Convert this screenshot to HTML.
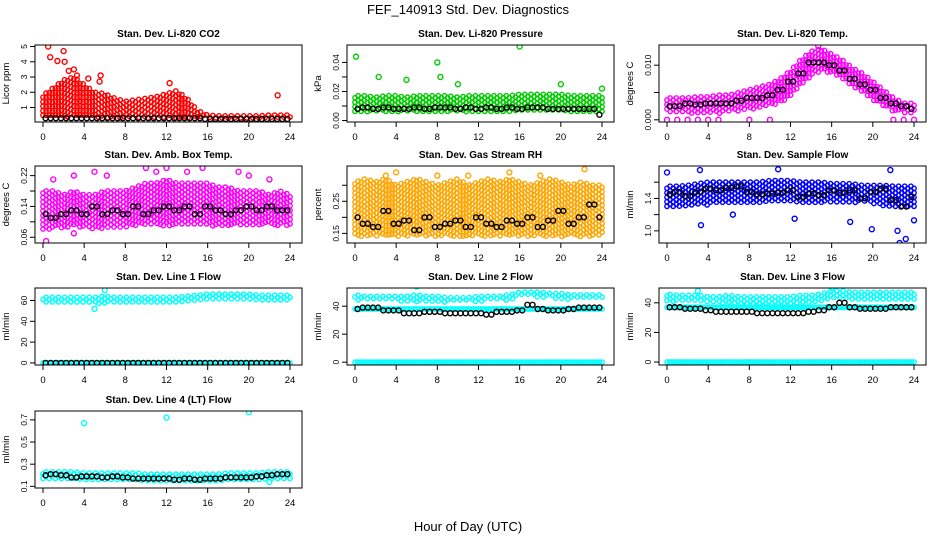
<!DOCTYPE html>
<html><head><meta charset="utf-8">
<style>
body{margin:0;background:#fff;}
svg{display:block;font-family:"Liberation Sans",sans-serif;}
</style></head>
<body>
<svg id="c" width="936" height="540" viewBox="0 0 936 540">
<text x="468" y="14" text-anchor="middle" font-size="13">FEF_140913  Std. Dev. Diagnostics</text>
<text x="468" y="531" text-anchor="middle" font-size="13">Hour of Day (UTC)</text>
</svg>
<script>
const hours=[0,1,2,3,4,5,6,7,8,9,10,11,12,13,14,15,16,17,18,19,20,21,22,23,24];
const titles=["Stan. Dev. Li-820 CO2","Stan. Dev. Li-820 Pressure","Stan. Dev. Li-820 Temp.","Stan. Dev. Amb. Box Temp.","Stan. Dev. Gas Stream RH","Stan. Dev. Sample Flow","Stan. Dev. Line 1 Flow","Stan. Dev. Line 2 Flow","Stan. Dev. Line 3 Flow","Stan. Dev. Line 4 (LT) Flow"];
const yTitles=["Licor ppm","kPa","degrees C","degrees C","percent","ml/min","ml/min","ml/min","ml/min","ml/min"];
const colors=["#ff0000","#00cc00","#ff00ff","#ff00ff","#ffa500","#0000ff","#00ffff","#00ffff","#00ffff","#00ffff"];
const yMin=[0.05,-0.001,-0.0004,0.045,0.12,0.85,-2,-2,-2,0.085];
const yMax=[5.1,0.052,0.0137,0.245,0.36,1.8,72,53,50,0.78];
const yTicks=[[1,2,3,4,5],[0,0.01,0.02,0.03,0.04],[0,0.005,0.01],[0.06,0.1,0.14,0.18,0.22],[0.15,0.2,0.25,0.3],[1.0,1.2,1.4,1.6],[0,20,40,60],[0,20,40],[0,20,40],[0.1,0.3,0.5,0.7]];
const yTickLabels=[["1","2","3","4","5"],["0.00","","0.02","","0.04"],["0.000","","0.010"],["0.06","","0.14","","0.22"],["0.15","","0.25",""],["1.0","","1.4",""],["0","20","40","60"],["0","20","40"],["0","20","40"],["0.1","0.3","0.5","0.7"]];
const xTicks=[0,4,8,12,16,20,24];
const bandLo=[
[0.3,0.3,0.3,0.3,0.3,0.3,0.3,0.3,0.3,0.3,0.3,0.3,0.3,0.3,0.3,0.3,0.25,0.25,0.25,0.25,0.25,0.25,0.25,0.25,0.25],
[0.006,0.006,0.006,0.006,0.006,0.006,0.006,0.006,0.006,0.006,0.006,0.006,0.006,0.006,0.006,0.006,0.006,0.006,0.006,0.006,0.006,0.006,0.006,0.006,0.006],
[0.0012,0.0012,0.0012,0.0012,0.0012,0.0012,0.0014,0.0016,0.0018,0.002,0.0025,0.003,0.0045,0.0065,0.008,0.009,0.0085,0.0075,0.006,0.005,0.0035,0.0025,0.0015,0.0012,0.0012],
[0.08,0.08,0.085,0.085,0.085,0.08,0.085,0.085,0.085,0.09,0.09,0.09,0.09,0.09,0.09,0.09,0.09,0.09,0.09,0.09,0.09,0.09,0.09,0.09,0.09],
[0.14,0.14,0.14,0.14,0.14,0.14,0.14,0.14,0.14,0.14,0.14,0.14,0.14,0.14,0.14,0.14,0.14,0.14,0.14,0.14,0.14,0.14,0.14,0.14,0.14],
[1.3,1.3,1.3,1.32,1.32,1.33,1.33,1.33,1.33,1.33,1.35,1.35,1.35,1.35,1.35,1.35,1.35,1.35,1.35,1.35,1.33,1.3,1.28,1.28,1.28],
[58,58,58,58,58,57,57,58,58,58,58,58,58,58,58,59,60,60,60,60,60,60,59,59,59],
[44,44,44,44,44,43,43,43,43,43,43,43,43,44,44,44,47,47,46,46,45,45,45,45,45],
[41,41,41,41,40,40,39,39,39,39,39,39,39,40,40,41,43,43,42,42,42,42,42,42,42],
[0.15,0.15,0.15,0.15,0.14,0.14,0.14,0.14,0.14,0.14,0.14,0.14,0.13,0.13,0.13,0.13,0.13,0.13,0.14,0.14,0.14,0.14,0.15,0.15,0.15]];
const bandHi=[
[1.8,2.3,2.8,3.0,2.5,2.0,1.9,1.6,1.4,1.5,1.6,1.7,1.9,2.1,1.6,0.8,0.5,0.45,0.45,0.45,0.45,0.45,0.5,0.5,0.5],
[0.017,0.017,0.016,0.017,0.017,0.016,0.017,0.017,0.017,0.017,0.016,0.017,0.017,0.017,0.017,0.017,0.018,0.018,0.018,0.018,0.018,0.017,0.017,0.017,0.017],
[0.004,0.004,0.004,0.0042,0.0042,0.0045,0.0045,0.005,0.0055,0.006,0.0065,0.0075,0.009,0.011,0.0125,0.013,0.012,0.011,0.0095,0.0085,0.007,0.0055,0.004,0.003,0.003],
[0.18,0.18,0.17,0.18,0.17,0.17,0.18,0.18,0.18,0.19,0.2,0.2,0.21,0.2,0.2,0.2,0.2,0.19,0.19,0.18,0.18,0.18,0.17,0.18,0.17],
[0.31,0.32,0.31,0.32,0.3,0.31,0.32,0.31,0.3,0.31,0.32,0.3,0.31,0.32,0.31,0.32,0.31,0.3,0.31,0.32,0.31,0.3,0.31,0.3,0.3],
[1.55,1.55,1.56,1.58,1.6,1.6,1.6,1.6,1.6,1.6,1.62,1.62,1.62,1.6,1.6,1.6,1.58,1.58,1.58,1.56,1.56,1.56,1.55,1.55,1.55],
[63,63,63,63,63,63,64,63,63,63,63,63,63,63,64,65,66,66,66,66,66,65,65,65,65],
[48,47,47,47,47,47,48,47,47,46,46,46,47,47,47,48,50,50,50,49,49,48,48,48,48],
[46,45,45,45,44,44,45,44,44,44,44,44,44,45,45,46,48,48,47,47,47,47,47,47,47],
[0.23,0.23,0.23,0.23,0.22,0.22,0.22,0.22,0.22,0.22,0.21,0.21,0.21,0.21,0.21,0.21,0.21,0.21,0.22,0.22,0.22,0.22,0.23,0.23,0.23]];
const blackVals=[
[0.3,0.3,0.3,0.3,0.3,0.3,0.3,0.3,0.3,0.3,0.3,0.3,0.3,0.3,0.3,0.3,0.25,0.25,0.25,0.25,0.25,0.25,0.25,0.25,0.25],
[0.008,0.009,0.008,0.009,0.008,0.008,0.009,0.008,0.009,0.009,0.008,0.009,0.008,0.009,0.008,0.009,0.008,0.009,0.009,0.008,0.008,0.008,0.008,0.008,0.004],
[0.0025,0.0025,0.003,0.0028,0.003,0.003,0.003,0.0035,0.004,0.004,0.0045,0.0055,0.007,0.0085,0.0105,0.0105,0.01,0.009,0.0075,0.0065,0.0055,0.004,0.003,0.0025,0.002],
[0.12,0.11,0.12,0.13,0.12,0.14,0.12,0.13,0.12,0.14,0.12,0.13,0.14,0.13,0.14,0.12,0.14,0.13,0.12,0.13,0.14,0.13,0.14,0.13,0.13],
[0.2,0.18,0.17,0.22,0.18,0.19,0.16,0.2,0.17,0.18,0.19,0.17,0.2,0.18,0.17,0.19,0.18,0.2,0.17,0.19,0.22,0.18,0.2,0.24,0.2],
[1.45,1.48,1.43,1.48,1.52,1.5,1.53,1.55,1.48,1.45,1.46,1.47,1.5,1.42,1.46,1.44,1.5,1.47,1.5,1.4,1.48,1.52,1.38,1.3,1.42],
[0,0,0,0,0,0,0,0,0,0,0,0,0,0,0,0,0,0,0,0,0,0,0,0,0],
[38,39,39,37,37,35,35,36,36,35,35,35,35,34,36,36,37,41,38,37,37,38,39,39,39],
[37,37,36,36,35,34,34,34,34,33,33,33,33,33,34,35,37,40,37,36,36,36,37,37,37],
[0.2,0.21,0.2,0.18,0.19,0.19,0.18,0.19,0.18,0.17,0.17,0.17,0.17,0.16,0.17,0.16,0.17,0.17,0.18,0.18,0.18,0.19,0.2,0.21,0.21]];
const zeroBand=[null,null,null,null,null,null,[0],[0,38],[0,37],null];
const outliers=[
[[0.5,5.0],[0.7,4.3],[1.4,4.05],[2.0,4.7],[2.1,4.0],[2.5,3.4],[3.0,3.5],[3.3,3.1],[4.4,2.9],[5.6,3.1],[5.5,2.7],[12.3,2.6],[22.8,1.8]],
[[0.1,0.044],[8.0,0.04],[16.0,0.051],[2.3,0.03],[8.3,0.03],[10,0.025],[24,0.022],[20,0.025],[5,0.028]],
[[0,0],[1,0],[2,0],[3,0],[4,0],[5,0],[8,0],[10,0],[22,0],[23,0],[24,0],[14.7,0.0135]],
[[1,0.21],[3,0.22],[5,0.23],[6.2,0.22],[10,0.24],[11,0.23],[12,0.24],[14,0.23],[15.5,0.24],[19,0.23],[20,0.22],[22,0.21],[0.3,0.05],[3,0.07]],
[[4,0.34],[8,0.33],[15,0.34],[22.3,0.35],[3,0.33],[11,0.33],[18,0.33]],
[[0,1.72],[3.2,1.75],[3.3,1.07],[10.8,1.76],[21.7,1.75],[19.9,1.02],[22.4,1.0],[22.6,0.85],[23.2,0.9],[24,1.13],[12.4,1.15],[17.8,1.11],[6.4,1.2]],
[[6,70],[5,52]],
[[6,54]],
[[3,48],[16,50]],
[[4,0.67],[12,0.72],[20,0.77],[22,0.14]]];

const NS="http://www.w3.org/2000/svg";
const svg=document.getElementById('c');
const tops=[45,166,288,411];
function el(tag,attrs,parent){const e=document.createElementNS(NS,tag);for(const k in attrs)e.setAttribute(k,attrs[k]);(parent||svg).appendChild(e);return e;}
function interp(arr,x){const i=Math.min(Math.floor(x),23);const t=x-i;return arr[i]*(1-t)+arr[i+1]*t;}

for(let p=0;p<10;p++){
  const col=p%3,row=Math.floor(p/3);
  const left=35+312*col,top=tops[row],W=267,H=77;
  const x0=left+8,x1=left+255;
  const sx=h=>x0+(h/24)*(x1-x0);
  const sy=v=>top+H-((v-yMin[p])/(yMax[p]-yMin[p]))*H;
  const g=el('g',{});
  
  
  const t=el('text',{x:left+W/2,y:top-8,'text-anchor':'middle','font-size':'10','font-weight':'bold'},g);
  t.textContent=titles[p];
  
  
  const yl=el('text',{x:0,y:0,'text-anchor':'middle','font-size':'9.5',transform:`translate(${left-26},${top+H/2}) rotate(-90)`},g);
  yl.textContent=yTitles[p];
  
  
  const cid='clip'+p;
  const cp=el('clipPath',{id:cid},g);el('rect',{x:left,y:top,width:W,height:H},cp);
  const pts=el('g',{'clip-path':`url(#${cid})`,fill:'none','stroke-width':'1.4'},g);
  
  
  const c=colors[p];
  let k=0;
  for(let h=0;h<=24.001;h+=0.3){
    const lo=sy(interp(bandLo[p],Math.min(h,24))),hi=sy(interp(bandHi[p],Math.min(h,24)));
    k++;
    for(let py=hi+(k%2)*2;py<=lo+0.1;py+=4.5){
      const pt=el('circle',{cx:sx(h).toFixed(1),cy:py.toFixed(1),r:2.2,stroke:c},pts);
      
      
    }
  }
  if(zeroBand[p]){
    zeroBand[p].forEach(v=>{
      for(let h=0;h<=24.001;h+=0.25){
        const pt=el('circle',{cx:sx(h).toFixed(1),cy:sy(v).toFixed(1),r:2.2,stroke:c},pts);
        
        
      }
    });
  }
  outliers[p].forEach(o=>{
    const pt=el('circle',{cx:sx(o[0]),cy:sy(o[1]),r:2.5,stroke:c},pts);
    
    
  });
  blackVals[p].forEach((v,i)=>{
    const h=hours[i];
    [h-0.25,h+0.25].forEach(hh=>{
      if(hh<0.2||hh>24)return;
      const pt=el('circle',{cx:sx(hh),cy:sy(v),r:2.5,stroke:'#000'},pts);
      
      
    });
  });
  const box=el('rect',{x:left,y:top,width:W,height:H,fill:'none',stroke:'#000','stroke-width':'1'},g);
  
  
  xTicks.forEach(h=>{
    el('line',{x1:sx(h),x2:sx(h),y1:top+H,y2:top+H+5,stroke:'#000'},g);
    const tl=el('text',{x:sx(h),y:top+H+18,'text-anchor':'middle','font-size':'9.5'},g);
    tl.textContent=h;
    
    
  });
  yTicks[p].forEach((v,i)=>{
    el('line',{x1:left,x2:left-5,y1:sy(v),y2:sy(v),stroke:'#000'},g);
    const tl=el('text',{x:0,y:0,'text-anchor':'middle','font-size':'8.5',transform:`translate(${left-8},${sy(v)}) rotate(-90)`},g);
    tl.textContent=yTickLabels[p][i];
    
    
  });
}
</script>
</body></html>
